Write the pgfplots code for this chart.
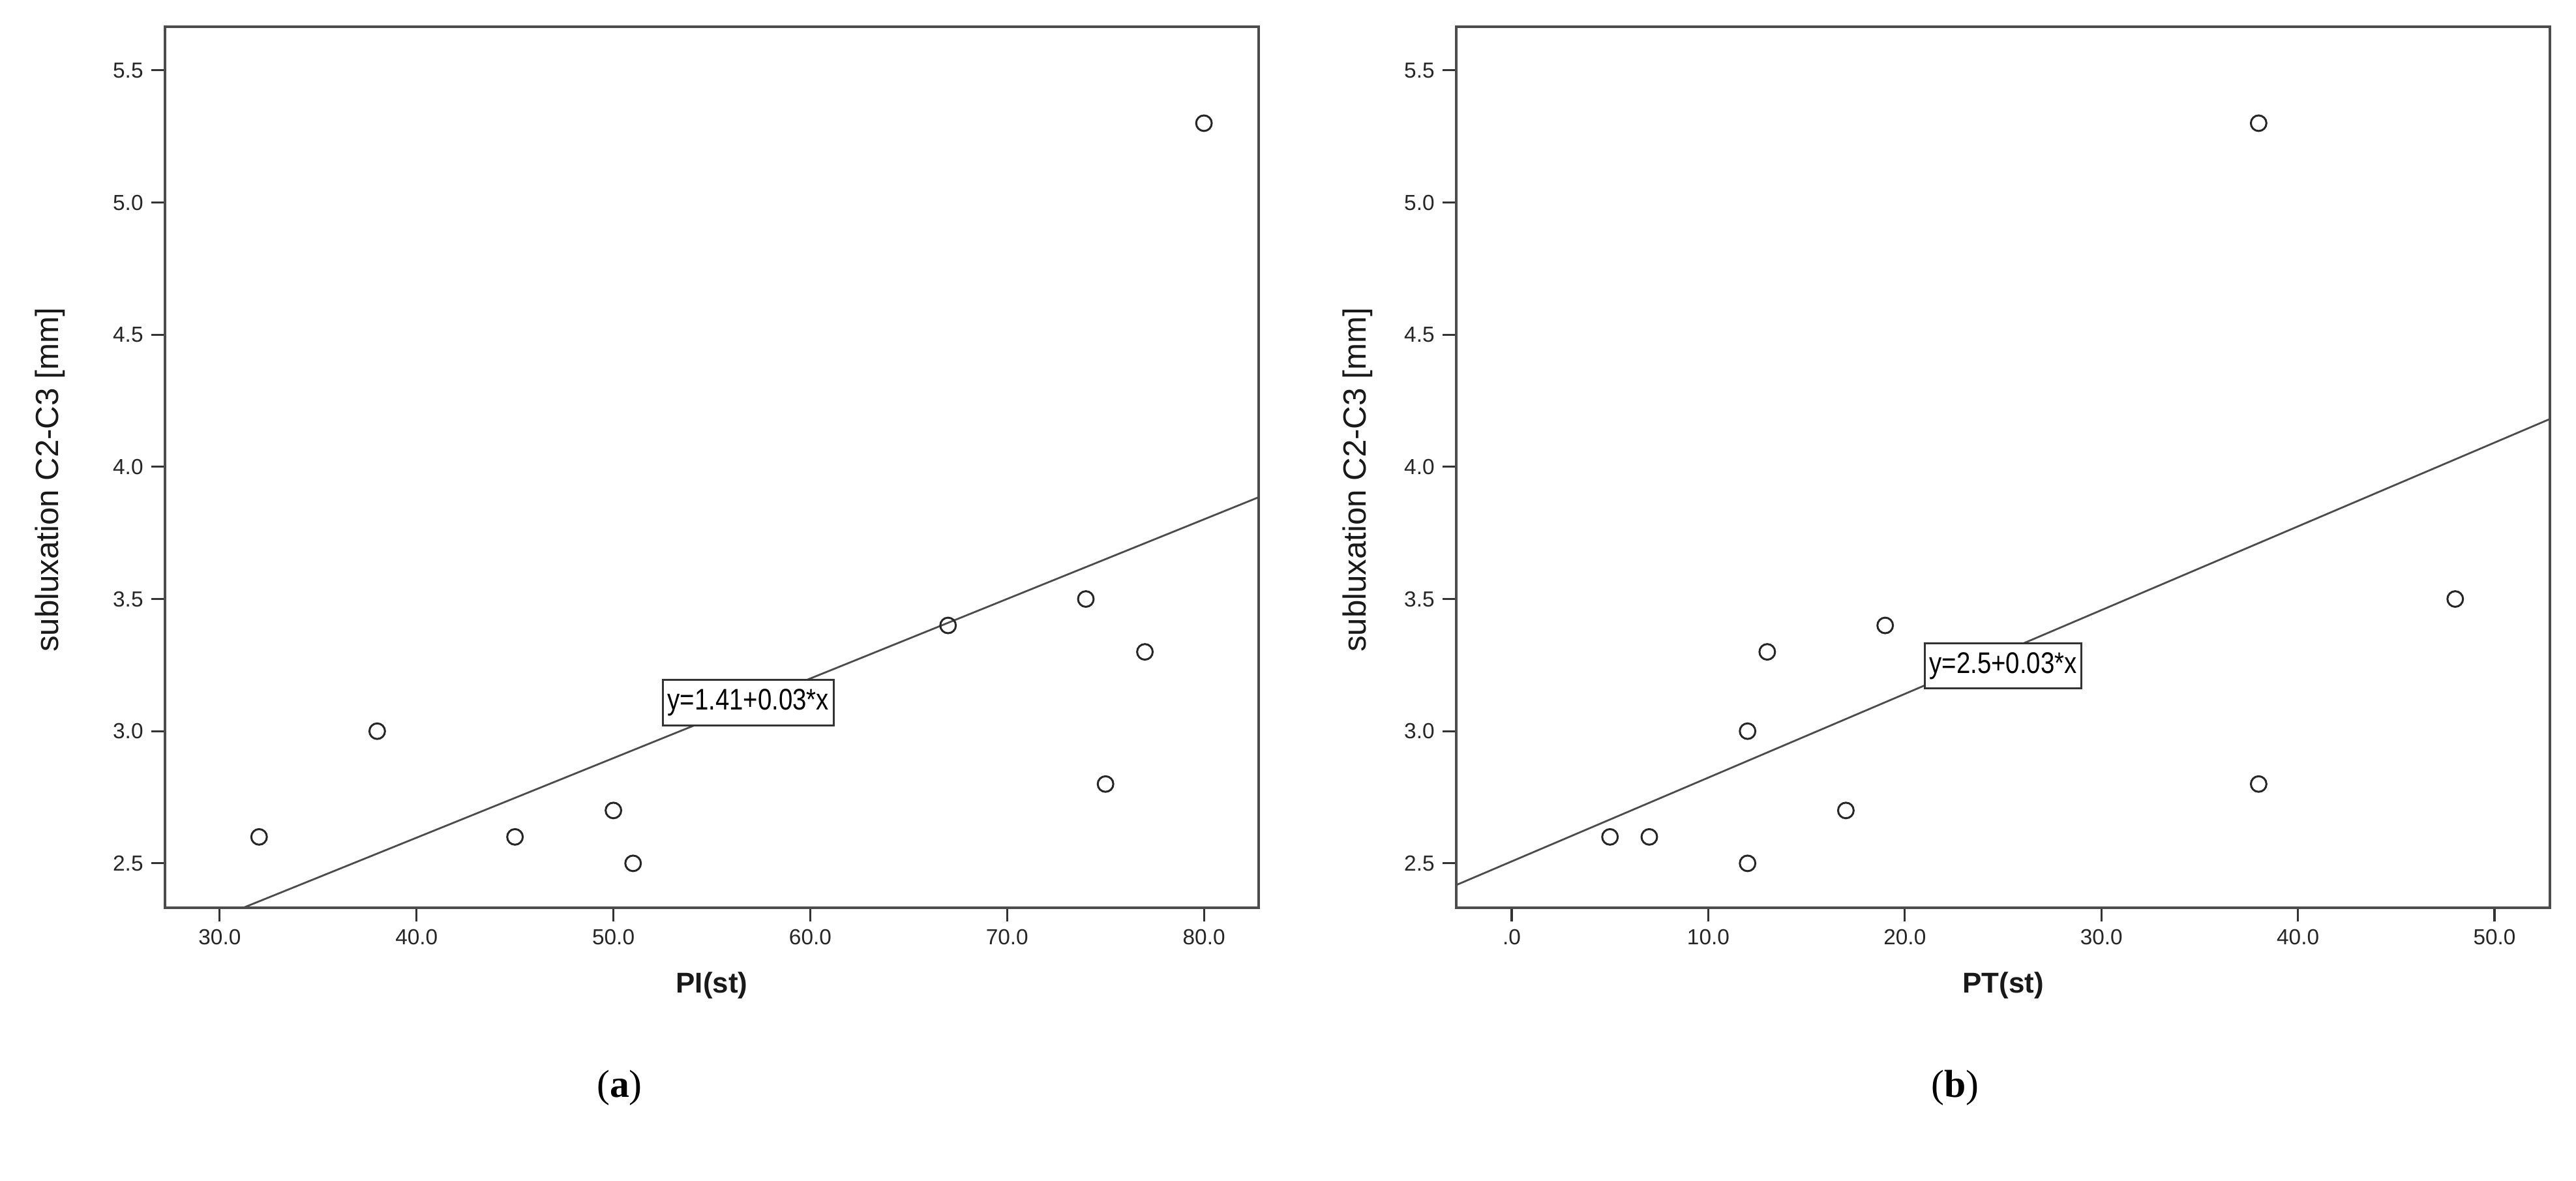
\documentclass[border=0pt]{standalone}
\usepackage{fontspec}
\setmainfont{Liberation Sans}
\newfontfamily\capfont{Liberation Serif}
\newfontfamily\eqfont[FakeStretch=0.84]{Liberation Sans}
\usepackage{pgfplots}
\pgfplotsset{compat=1.18}
\definecolor{spssline}{gray}{0.3}

\pgfplotsset{
  spss/.style={
    scale only axis, width=16.77cm, height=13.51cm,
    ymin=2.332, ymax=5.665,
    ytick={2.5,3.0,3.5,4.0,4.5,5.0,5.5},
    yticklabels={2.5,3.0,3.5,4.0,4.5,5.0,5.5},
    axis line style={spssline, line width=1.1pt},
    tick align=outside, tick pos=left,
    major tick length=0.21cm,
    every tick/.style={black!80, line width=0.9pt},
    tick label style={font=\fontsize{9.5}{11}\selectfont, black!85},
    /pgf/number format/assume math mode=true,
    ylabel style={font=\fontsize{14}{16}\selectfont, black!90, anchor=center},
    xlabel style={font=\fontsize{12.5}{14}\selectfont\bfseries, black!90,
                  at={(axis description cs:0.5,-0.088)}, anchor=center},
  },
  pts/.style={only marks, mark=o, mark size=3.4pt, black!85,
              mark options={line width=0.85pt}},
  fit/.style={no marks, spssline, line width=0.8pt},
}
\tikzset{
  eqbox/.style={draw=black!80, line width=0.8pt, fill=white,
                inner xsep=2pt, inner ysep=4pt,
                font=\eqfont\fontsize{13}{15}\selectfont},
}

\begin{document}
\begin{tikzpicture}
\path[use as bounding box] (0,0) rectangle (39.5,18.11);

% (a) PI
\begin{axis}[
  spss, at={(2.53cm,4.19cm)}, anchor=south west,
  xmin=27.22, xmax=82.78,
  xtick={30,40,50,60,70,80},
  xticklabels={30.0,40.0,50.0,60.0,70.0,80.0},
  xlabel={PI(st)},
  ylabel={subluxation C2-C3 [mm]},
  ylabel style={at={(axis description cs:-0.105,0.4856)}},
]
\addplot[fit] coordinates {(30,2.296) (82.78,3.885)};
\addplot[pts] coordinates {
  (32,2.6) (38,3.0) (45,2.6) (50,2.7) (51,2.5)
  (67,3.4) (74,3.5) (75,2.8) (77,3.3) (80,5.3)};
\node[eqbox] at (axis cs:56.85,3.108) {y=1.41+0.03*x};
\end{axis}

% (b) PT
\begin{axis}[
  spss, at={(22.33cm,4.19cm)}, anchor=south west,
  xmin=-2.82, xmax=52.82,
  xtick={0,10,20,30,40,50},
  xticklabels={.0,10.0,20.0,30.0,40.0,50.0},
  xlabel={PT(st)},
  ylabel={subluxation C2-C3 [mm]},
  ylabel style={at={(axis description cs:-0.09,0.4856)}},
]
\addplot[fit] coordinates {(-2.82,2.418) (52.82,4.181)};
\addplot[pts] coordinates {
  (5,2.6) (7,2.6) (12,3.0) (12,2.5) (13,3.3)
  (17,2.7) (19,3.4) (38,5.3) (38,2.8) (48,3.5)};
\node[eqbox] at (axis cs:25.0,3.247) {y=2.5+0.03*x};
\end{axis}

\node[font=\capfont\fontsize{17}{19}\selectfont] at (9.50,1.43) {(\textbf{a})};
\node[font=\capfont\fontsize{17}{19}\selectfont] at (29.98,1.43) {(\textbf{b})};
\end{tikzpicture}
\end{document}
